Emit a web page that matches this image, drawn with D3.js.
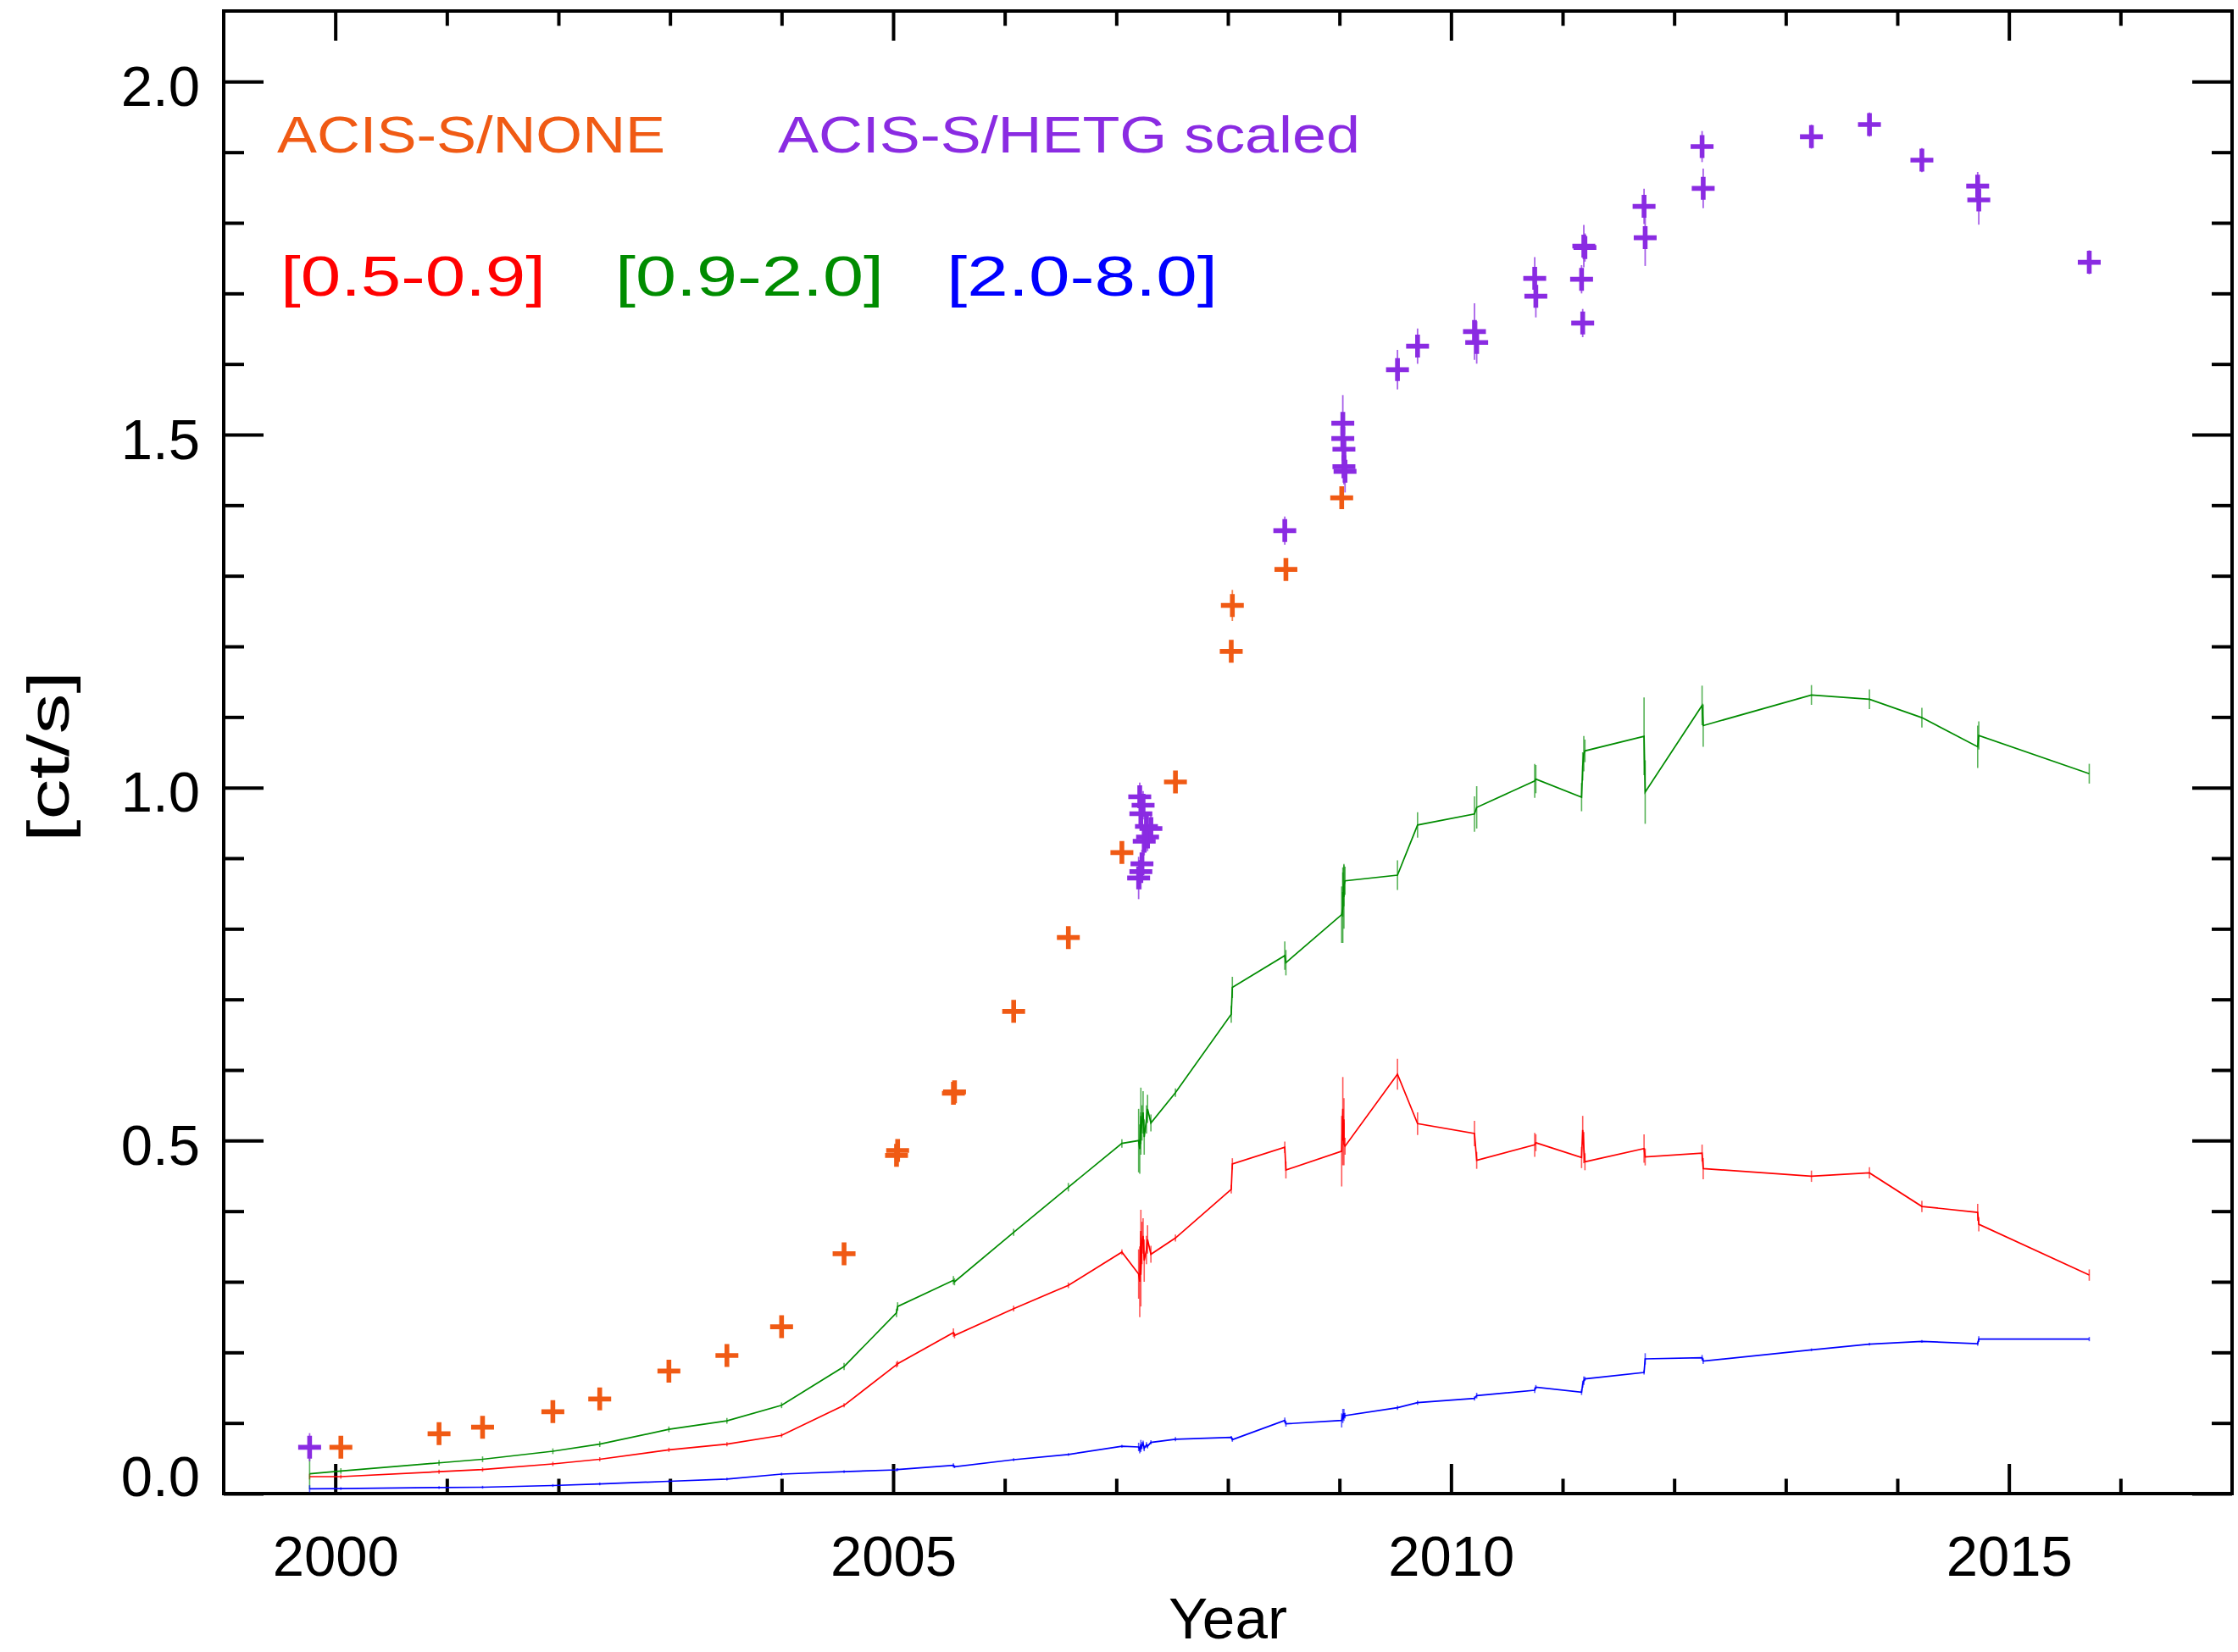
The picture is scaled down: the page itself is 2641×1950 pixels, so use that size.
<!DOCTYPE html>
<html>
<head>
<meta charset="utf-8">
<title>ACIS-S count rate vs. year</title>
<script src="https://cdn.jsdelivr.net/npm/d3@7"></script>
<style>
  body { margin: 0; background: #fff; }
  svg { display: block; }
</style>
</head>
<body>
<svg id="chart" width="2641" height="1950"></svg>
<script>
// ---- data ----

// ACIS-S/NONE observations (orange crosses)
const noneYears = [2000.05, 2000.93, 2001.32, 2001.95, 2002.37, 2002.99, 2003.51, 2004.00, 2004.56,
  2005.03, 2005.04, 2005.54, 2005.55, 2006.08, 2006.57, 2007.05, 2007.53, 2008.03, 2008.04, 2008.52, 2009.02];
const noneRates = [0.0656, 0.0848, 0.094, 0.116, 0.134, 0.1735, 0.1956, 0.2363, 0.3397,
  0.479, 0.486, 0.567, 0.569, 0.683, 0.7876, 0.908, 1.008, 1.193, 1.258, 1.309, 1.4105];
const noneErr = [0.008, 0.008, 0.008, 0.008, 0.008, 0.008, 0.008, 0.008, 0.008,
  0.01, 0.01, 0.01, 0.01, 0.01, 0.01, 0.012, 0.012, 0.012, 0.022, 0.012, 0.015];

// ACIS-S/HETG observations, scaled (purple crosses)
const hetgYears = [1999.77,
  2007.20, 2007.21, 2007.22, 2007.22, 2007.23, 2007.24, 2007.25, 2007.27, 2007.28, 2007.31,
  2008.51, 2009.03, 2009.03, 2009.04, 2009.04, 2009.05,
  2009.52, 2009.70, 2010.21, 2010.23, 2010.75, 2010.76, 2011.17, 2011.18, 2011.19, 2011.20,
  2011.73, 2011.74, 2012.25, 2012.26, 2013.23, 2013.75, 2014.22, 2014.72, 2014.73, 2015.72];
const hetgRates = [0.0656,
  0.872, 0.987, 0.881, 0.963, 0.892, 0.975, 0.924, 0.945, 0.930, 0.942,
  1.364, 1.516, 1.4945, 1.4793, 1.4545, 1.448,
  1.592, 1.6253, 1.646, 1.6305, 1.7213, 1.696, 1.720, 1.658, 1.767, 1.765,
  1.8233, 1.7789, 1.908, 1.8488, 1.922, 1.9392, 1.8888, 1.852, 1.8324, 1.7441];
const hetgErr = [0.02,
  0.03, 0.02, 0.025, 0.02, 0.02, 0.02, 0.02, 0.02, 0.02, 0.02,
  0.02, 0.04, 0.02, 0.02, 0.025, 0.03,
  0.028, 0.025, 0.04, 0.03, 0.03, 0.03, 0.02, 0.02, 0.03, 0.02,
  0.025, 0.04, 0.022, 0.028, 0.017, 0.017, 0.017, 0.02, 0.035, 0.017];

// energy bands, one value per observation (all observations in time order)
const bandYears = [
  1999.77, 2000.05, 2000.93, 2001.32, 2001.95, 2002.37, 2002.99, 2003.51, 2004.00, 2004.56, 2005.03, 2005.04, 2005.54, 2005.55, 2006.08, 2006.57, 2007.05,
  2007.20, 2007.21, 2007.22, 2007.22, 2007.23, 2007.24, 2007.25, 2007.27, 2007.28, 2007.31,
  2007.53, 2008.03, 2008.04, 2008.51, 2008.52, 2009.02, 2009.03, 2009.03, 2009.04, 2009.04, 2009.05,
  2009.52, 2009.70, 2010.21, 2010.23, 2010.75, 2010.76, 2011.17, 2011.18, 2011.19, 2011.20, 2011.73, 2011.74, 2012.25, 2012.26, 2013.23, 2013.75, 2014.22, 2014.72, 2014.73, 2015.72];

// [0.5-0.9] keV
const softRates = [
  0.024, 0.024, 0.031, 0.034, 0.042, 0.0486, 0.062, 0.070, 0.0825, 0.125, 0.1826, 0.184, 0.228, 0.224, 0.262, 0.295, 0.342,
  0.311, 0.300, 0.372, 0.310, 0.355, 0.365, 0.330, 0.345, 0.360, 0.339,
  0.362, 0.431, 0.467, 0.4905, 0.4583, 0.485, 0.545, 0.500, 0.530, 0.495, 0.492,
  0.594, 0.524, 0.510, 0.472, 0.494, 0.497, 0.476, 0.515, 0.490, 0.470, 0.4887, 0.4768, 0.4823, 0.4603, 0.4495, 0.4543, 0.4067, 0.3983, 0.3815, 0.3095];
const softErr = [
  0.004, 0.003, 0.003, 0.003, 0.003, 0.003, 0.003, 0.003, 0.003, 0.003, 0.004, 0.004, 0.006, 0.004, 0.004, 0.004, 0.004,
  0.035, 0.05, 0.03, 0.045, 0.03, 0.025, 0.03, 0.02, 0.02, 0.012,
  0.005, 0.006, 0.008, 0.008, 0.012, 0.05, 0.045, 0.035, 0.03, 0.03, 0.012,
  0.022, 0.016, 0.018, 0.012, 0.017, 0.012, 0.015, 0.02, 0.022, 0.012, 0.02, 0.012, 0.012, 0.015, 0.008, 0.008, 0.008, 0.012, 0.01, 0.008];

// [0.9-2.0] keV
const mediumRates = [
  0.028, 0.032, 0.0435, 0.0486, 0.060, 0.070, 0.091, 0.103, 0.125, 0.180, 0.256, 0.265, 0.302, 0.300, 0.370, 0.434, 0.496,
  0.500, 0.488, 0.535, 0.510, 0.525, 0.540, 0.505, 0.530, 0.545, 0.525,
  0.568, 0.679, 0.717, 0.762, 0.752, 0.820, 0.830, 0.852, 0.845, 0.862, 0.868,
  0.876, 0.947, 0.9626, 0.972, 1.0094, 1.012, 0.9865, 1.030, 1.048, 1.052, 1.0727, 0.9937, 1.1164, 1.0878, 1.1312, 1.1252, 1.0991, 1.0578, 1.0739, 1.0197];
const mediumErr = [
  0.022, 0.004, 0.004, 0.004, 0.004, 0.004, 0.004, 0.004, 0.004, 0.005, 0.006, 0.006, 0.006, 0.005, 0.005, 0.006, 0.006,
  0.045, 0.035, 0.04, 0.03, 0.025, 0.03, 0.025, 0.02, 0.02, 0.012,
  0.006, 0.012, 0.015, 0.02, 0.018, 0.04, 0.05, 0.035, 0.045, 0.03, 0.02,
  0.021, 0.018, 0.025, 0.03, 0.024, 0.02, 0.02, 0.02, 0.025, 0.016, 0.055, 0.045, 0.028, 0.03, 0.014, 0.014, 0.014, 0.03, 0.02, 0.014];

// [2.0-8.0] keV
const hardRates = [
  0.0068, 0.007, 0.0086, 0.009, 0.0114, 0.0137, 0.0174, 0.0205, 0.0276, 0.031, 0.0336, 0.034, 0.040, 0.038, 0.048, 0.0554, 0.067,
  0.066, 0.062, 0.070, 0.063, 0.068, 0.071, 0.064, 0.069, 0.067, 0.0725,
  0.077, 0.0796, 0.0764, 0.1036, 0.0988, 0.1036, 0.112, 0.106, 0.114, 0.108, 0.1104,
  0.1216, 0.1288, 0.1348, 0.1388, 0.1464, 0.1508, 0.1436, 0.155, 0.160, 0.1624, 0.1716, 0.1908, 0.1924, 0.1876, 0.2036, 0.2116, 0.2156, 0.2124, 0.2188, 0.2188];
const hardErr = [
  0.005, 0.002, 0.002, 0.002, 0.002, 0.002, 0.002, 0.002, 0.002, 0.002, 0.002, 0.002, 0.003, 0.002, 0.002, 0.002, 0.002,
  0.006, 0.005, 0.006, 0.004, 0.005, 0.004, 0.004, 0.004, 0.003, 0.003,
  0.003, 0.002, 0.003, 0.004, 0.004, 0.01, 0.008, 0.006, 0.006, 0.005, 0.004,
  0.003, 0.003, 0.003, 0.004, 0.004, 0.003, 0.004, 0.005, 0.006, 0.003, 0.003, 0.008, 0.004, 0.004, 0.002, 0.002, 0.002, 0.003, 0.004, 0.003];

const instrumentLabels = ['ACIS-S/NONE', 'ACIS-S/HETG scaled'];
const bandLabels = ['[0.5-0.9]', '[0.9-2.0]', '[2.0-8.0]'];
const xDomain = [1999, 2017];
const yDomain = [0, 2.1];
const xMajor = [2000, 2005, 2010, 2015];
const yMajor = [0, 0.5, 1.0, 1.5, 2.0];

// ---- drawing ----
const FONT = "'Liberation Sans', Arial, sans-serif";
const colors = { none: '#f05a14', hetg: '#8a2be2', soft: '#ff0000', medium: '#008c00', hard: '#0000ff' };
const frame = { left: 264, right: 2634, top: 13, bottom: 1763 };

const svg = d3.select('#chart');
const x = d3.scaleLinear().domain(xDomain).range([frame.left, frame.right]);
const y = d3.scaleLinear().domain(yDomain).range([frame.bottom, frame.top]);

const xMinor = d3.range(xDomain[0] + 1, xDomain[1]).filter(v => !xMajor.includes(v));
const yMinor = d3.range(1, 21).filter(i => i % 5 !== 0).map(i => i / 10);

function addAxis(axis, tx, ty) {
  const g = svg.append('g')
    .attr('transform', `translate(${tx},${ty})`)
    .call(axis);
  // d3 sets its own font on call, override afterwards
  g.attr('font-family', FONT).attr('font-size', 67);
  g.select('.domain').remove();
  g.selectAll('.tick line').attr('stroke', '#000').attr('stroke-width', 4);
  g.selectAll('.tick text').attr('fill', '#000');
  return g;
}

// x axes (bottom with labels, top mirrored), ticks point inward
addAxis(d3.axisBottom(x).tickValues(xMajor).tickSizeInner(-35).tickSizeOuter(0).tickPadding(49).tickFormat(d3.format('d')), 0, frame.bottom);
addAxis(d3.axisBottom(x).tickValues(xMinor).tickSizeInner(-17.5).tickSizeOuter(0).tickFormat(''), 0, frame.bottom);
addAxis(d3.axisTop(x).tickValues(xMajor).tickSizeInner(-35).tickSizeOuter(0).tickFormat(''), 0, frame.top);
addAxis(d3.axisTop(x).tickValues(xMinor).tickSizeInner(-17.5).tickSizeOuter(0).tickFormat(''), 0, frame.top);

// y axes
const yLeft = addAxis(d3.axisLeft(y).tickValues(yMajor).tickSizeInner(-47).tickSizeOuter(0).tickPadding(28).tickFormat(d3.format('.1f')), frame.left, 0);
yLeft.selectAll('.tick text').attr('dy', d => d === 0 ? '0.03em' : '0.42em');
addAxis(d3.axisLeft(y).tickValues(yMinor).tickSizeInner(-24).tickSizeOuter(0).tickFormat(''), frame.left, 0);
addAxis(d3.axisRight(y).tickValues(yMajor).tickSizeInner(-47).tickSizeOuter(0).tickFormat(''), frame.right, 0);
addAxis(d3.axisRight(y).tickValues(yMinor).tickSizeInner(-24).tickSizeOuter(0).tickFormat(''), frame.right, 0);

svg.append('rect')
  .attr('x', frame.left).attr('y', frame.top)
  .attr('width', frame.right - frame.left).attr('height', frame.bottom - frame.top)
  .attr('fill', 'none').attr('stroke', '#000').attr('stroke-width', 4);

// band light curves with their error bars
const bands = [
  { rates: softRates, errs: softErr, color: colors.soft },
  { rates: mediumRates, errs: mediumErr, color: colors.medium },
  { rates: hardRates, errs: hardErr, color: colors.hard }
];
const line = d3.line().x(d => x(d.t)).y(d => y(d.v));

bands.forEach(b => {
  const pts = bandYears.map((t, i) => ({ t: t, v: b.rates[i], e: b.errs[i] }));
  const g = svg.append('g');
  g.append('path')
    .datum(pts)
    .attr('d', line)
    .attr('fill', 'none')
    .attr('stroke', b.color)
    .attr('stroke-width', 1.7)
    .attr('stroke-linejoin', 'miter');
  g.selectAll('line')
    .data(pts)
    .join('line')
    .attr('x1', d => x(d.t)).attr('x2', d => x(d.t))
    .attr('y1', d => y(d.v - d.e)).attr('y2', d => y(d.v + d.e))
    .attr('stroke', b.color)
    .attr('stroke-width', 1.6)
    .attr('opacity', 0.65);
});

// crosses for the two instrument configurations
function drawCrosses(years, rates, errs, color) {
  const pts = years.map((t, i) => ({ t: t, v: rates[i], e: errs[i] }));
  const g = svg.append('g');
  g.selectAll('line')
    .data(pts)
    .join('line')
    .attr('x1', d => x(d.t)).attr('x2', d => x(d.t))
    .attr('y1', d => y(d.v - d.e)).attr('y2', d => y(d.v + d.e))
    .attr('stroke', color)
    .attr('stroke-width', 1.8)
    .attr('opacity', 0.75);
  g.selectAll('path')
    .data(pts)
    .join('path')
    .attr('d', d => `M${x(d.t) - 13.5},${y(d.v)}h27M${x(d.t)},${y(d.v) - 13.5}v27`)
    .attr('fill', 'none')
    .attr('stroke', color)
    .attr('stroke-width', 5.6);
}
drawCrosses(noneYears, noneRates, noneErr, colors.none);
drawCrosses(hetgYears, hetgRates, hetgErr, colors.hetg);

// labels inside the plot
const instLayout = [
  { x: 327, len: 458, color: colors.none },
  { x: 918, len: 687, color: colors.hetg }
];
svg.append('g').selectAll('text')
  .data(instrumentLabels)
  .join('text')
  .attr('x', (d, i) => instLayout[i].x)
  .attr('y', 180)
  .attr('textLength', (d, i) => instLayout[i].len)
  .attr('lengthAdjust', 'spacingAndGlyphs')
  .attr('font-family', FONT)
  .attr('font-size', 61)
  .attr('fill', (d, i) => instLayout[i].color)
  .text(d => d);

const bandLayout = [
  { x: 331, len: 313, color: colors.soft },
  { x: 726, len: 317, color: colors.medium },
  { x: 1117, len: 320, color: colors.hard }
];
svg.append('g').selectAll('text')
  .data(bandLabels)
  .join('text')
  .attr('x', (d, i) => bandLayout[i].x)
  .attr('y', 349)
  .attr('textLength', (d, i) => bandLayout[i].len)
  .attr('lengthAdjust', 'spacingAndGlyphs')
  .attr('font-family', FONT)
  .attr('font-size', 66)
  .attr('fill', (d, i) => bandLayout[i].color)
  .text(d => d);

// axis titles
svg.append('text')
  .attr('x', (frame.left + frame.right) / 2)
  .attr('y', 1934)
  .attr('text-anchor', 'middle')
  .attr('textLength', 140)
  .attr('lengthAdjust', 'spacingAndGlyphs')
  .attr('font-family', FONT)
  .attr('font-size', 68)
  .text('Year');

svg.append('text')
  .attr('transform', `translate(81,${(frame.top + frame.bottom) / 2 + 5}) rotate(-90)`)
  .attr('text-anchor', 'middle')
  .attr('textLength', 202)
  .attr('lengthAdjust', 'spacingAndGlyphs')
  .attr('font-family', FONT)
  .attr('font-size', 68)
  .text('[ct/s]');
</script>
</body>
</html>
